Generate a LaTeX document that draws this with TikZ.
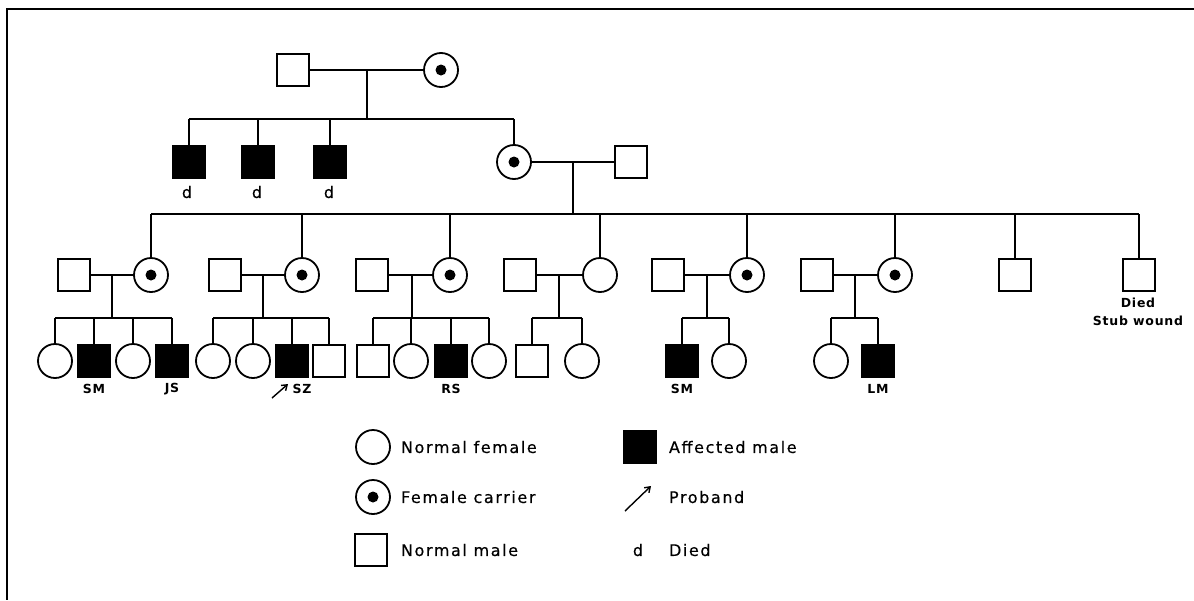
\documentclass[tikz,border=0pt]{standalone}
\usepackage{fontspec}
\usetikzlibrary{calc,arrows.meta}
\newfontfamily\legfont[LetterSpace=10,FakeBold=0.5]{DejaVu Sans}
\newfontfamily\labfont[LetterSpace=6]{DejaVu Sans Bold}
\begin{document}
\begin{tikzpicture}[x=1pt,y=-1pt,
  every path/.style={line width=2pt},
  male/.style={draw, rectangle, minimum width=32pt, minimum height=32pt, inner sep=0pt, line width=1.8pt},
  aff/.style={male, fill=black},
  fem/.style={draw, circle, minimum size=34pt, inner sep=0pt, line width=1.8pt},
  car/.style={fem, path picture={\fill (path picture bounding box.center) circle (5.5pt);}},
  lab/.style={font=\labfont\fontsize{12.5}{14}\selectfont, inner sep=0pt},
  dlab/.style={font=\legfont\fontsize{16}{18}\selectfont, inner sep=0pt},
  leg/.style={font=\legfont\fontsize{16}{18}\selectfont, inner sep=0pt, anchor=west},
  proband/.style={line width=1.4pt, -{Straight Barb[length=5pt,width=7pt]}}
]
\useasboundingbox (0,0) rectangle (1194,600);
% frame
\coordinate (fr0) at (7,9);
\coordinate (fr1) at (1194,9);
\coordinate (fr2) at (7,600);
\draw[line width=1.8pt] (fr1) -- (fr0) -- (fr2);

% ---------- Generation I
\node[male] (I1) at (293,70) {};
\node[car]  (I2) at (441,70) {};
\draw (I1) -- (I2);
\coordinate (jI) at (367,70);
\coordinate (bI) at (0,119);
\draw (jI) -- (jI |- bI);

% ---------- Generation II
\node[aff] (II1) at (189,162) {};
\node[aff] (II2) at (258,162) {};
\node[aff] (II3) at (330,162) {};
\node[car] (II4) at (514,162) {};
\node[male] (II5) at (631,162) {};
\draw (II1.north |- bI) -- (II4.north |- bI);
\foreach \c in {II1,II2,II3,II4} \draw (\c.north) -- (\c.north |- bI);
\node[dlab] (d1) at (187,192) {d};
\node[dlab] (d2) at (257,192) {d};
\node[dlab] (d3) at (329,192) {d};
\draw (II4) -- (II5);
\coordinate (jII) at (573,162);
\coordinate (bII) at (0,214);
\draw (jII) -- (jII |- bII);

% ---------- Generation III
\node[male] (A1) at (74,275) {};   \node[car] (A2) at (151,275) {};
\node[male] (B1) at (225,275) {};  \node[car] (B2) at (302,275) {};
\node[male] (C1) at (372,275) {};  \node[car] (C2) at (450,275) {};
\node[male] (D1) at (520,275) {};  \node[fem] (D2) at (600,275) {};
\node[male] (E1) at (668,275) {};  \node[car] (E2) at (747,275) {};
\node[male] (F1) at (817,275) {};  \node[car] (F2) at (895,275) {};
\node[male] (G1) at (1015,275) {};
\node[male] (H1) at (1139,275) {};
\draw (A2.north |- bII) -- (H1.north |- bII);
\foreach \c in {A2,B2,C2,D2,E2,F2,G1,H1} \draw (\c.north) -- (\c.north |- bII);
\node[lab] (died) at (1138,303) {Died};
\node[lab] (stub) at (1138,321) {Stub wound};
\coordinate (bIII) at (0,318);
\foreach \m/\f/\jx in {A1/A2/112,B1/B2/263,C1/C2/412,D1/D2/559,E1/E2/707,F1/F2/855} {
  \draw (\m) -- (\f);
  \coordinate (j\m) at (\jx,275);
  \draw (j\m) -- (j\m |- bIII);
}

% ---------- Generation IV
% family A
\node[fem] (a1) at (55,361) {};
\node[aff] (a2) at (94,361) {};
\node[fem] (a3) at (133,361) {};
\node[aff] (a4) at (172,361) {};
% family B
\node[fem] (b1) at (213,361) {};
\node[fem] (b2) at (253,361) {};
\node[aff] (b3) at (292,361) {};
\node[male] (b4) at (329,361) {};
% family C
\node[male] (c1) at (373,361) {};
\node[fem] (c2) at (411,361) {};
\node[aff] (c3) at (451,361) {};
\node[fem] (c4) at (489,361) {};
% family D
\node[male] (d1s) at (532,361) {};
\node[fem] (d2s) at (582,361) {};
% family E
\node[aff] (e1) at (682,361) {};
\node[fem] (e2) at (729,361) {};
% family F
\node[fem] (f1) at (831,361) {};
\node[aff] (f2) at (878,361) {};
\foreach \s/\e in {a1/a4,b1/b4,c1/c4,d1s/d2s,e1/e2,f1/f2}
  \draw (\s.north |- bIII) -- (\e.north |- bIII);
\foreach \c in {a1,a2,a3,a4,b1,b2,b3,b4,c1,c2,c3,c4,d1s,d2s,e1,e2,f1,f2}
  \draw (\c.north) -- (\c.north |- bIII);
\node[lab] (lSM1) at (94,389) {SM};
\node[lab] (lJS) at (172,389) {JS};
\node[lab] (lSZ) at (302,389) {SZ};
\node[lab] (lRS) at (451,389) {RS};
\node[lab] (lSM2) at (682,389) {SM};
\node[lab] (lLM) at (878,389) {LM};
\coordinate (pa) at (272,398);
\coordinate (pb) at (288,384);
\draw[proband] (pa) -- (pb);

% ---------- Legend
\node[fem] (k1) at (373,447) {};
\node[leg] (t1) at (400,447) {Normal female};
\node[car] (k2) at (373,497) {};
\node[leg] (t2) at (400,497) {Female carrier};
\node[male] (k3) at (371,550) {};
\node[leg] (t3) at (400,550) {Normal male};
\node[aff] (k4) at (640,447) {};
\node[leg] (t4) at (668,447) {Affected male};
\coordinate (ka) at (625,511);
\coordinate (kb) at (651,486);
\draw[proband] (ka) -- (kb);
\node[leg] (t5) at (668,497) {Proband};
\node[dlab] (k6) at (638,550) {d};
\node[leg] (t6) at (668,550) {Died};
\end{tikzpicture}
\end{document}
